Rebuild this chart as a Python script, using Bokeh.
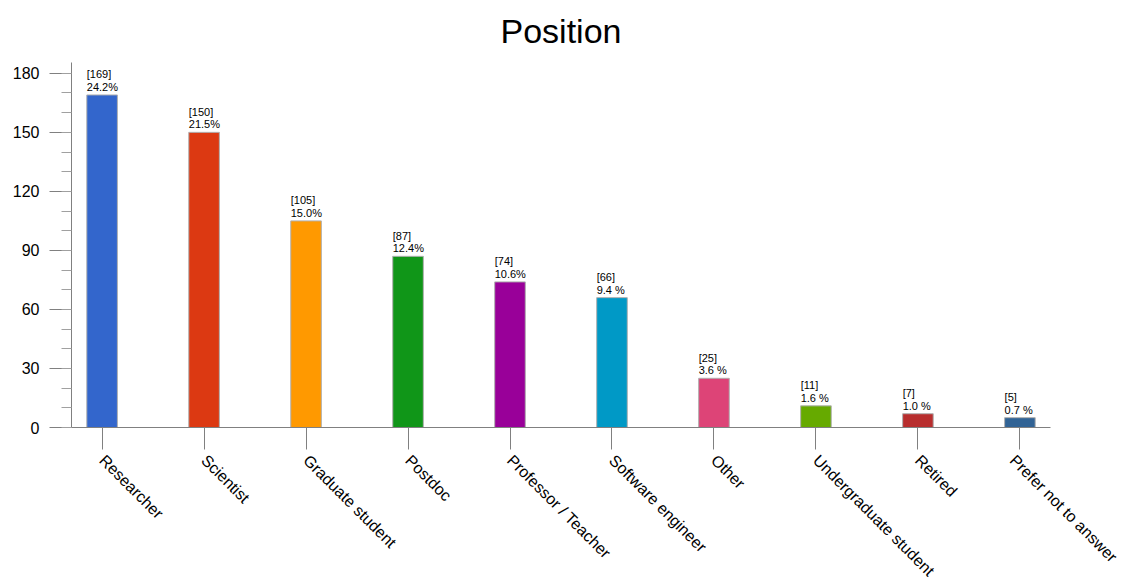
import math
from bokeh.plotting import figure
from bokeh.models import ColumnDataSource, FixedTicker, Range1d
from bokeh.core.properties import value
from bokeh.embed import file_html
from bokeh.resources import INLINE

categories = ["Researcher", "Scientist", "Graduate student", "Postdoc",
              "Professor / Teacher", "Software engineer", "Other",
              "Undergraduate student", "Retired", "Prefer not to answer"]
counts = [169, 150, 105, 87, 74, 66, 25, 11, 7, 5]
percent_labels = ["24.2%", "21.5%", "15.0%", "12.4%", "10.6%",
                  "9.4 %", "3.6 %", "1.6 %", "1.0 %", "0.7 %"]
colors = ["#3366CC", "#DC3912", "#FF9900", "#109618", "#990099",
          "#0099C6", "#DD4477", "#66AA00", "#B82E2E", "#316395"]
y_ticks = [0, 30, 60, 90, 120, 150, 180]

FONT = "Liberation Sans"
bar_w = 0.3
xs = list(range(len(categories)))
src = ColumnDataSource(dict(
    x=xs,
    left=[x - bar_w / 2 for x in xs],
    top=counts,
    color=colors,
    label=["[%d]\n%s" % (c, pl) for c, pl in zip(counts, percent_labels)],
))

W, H = 1120, 588
p = figure(width=W, height=H, output_backend="svg", toolbar_location=None,
           x_range=Range1d(-0.3, 9.3), y_range=Range1d(0, 185.5),
           min_border_left=71, min_border_right=W - 1050, min_border_top=62,
           min_border_bottom=150)
p.title.text = "Position"
p.title.text_font = FONT
p.title.text_font_size = "34px"
p.title.text_font_style = "normal"
p.title.align = "center"
p.title.text_color = "#000000"
p.title.standoff = 22
p.title.vertical_align = "top"

p.vbar(x="x", width=bar_w, top="top", bottom=0, source=src,
       fill_color="color", line_color="#b0b0b0", line_width=1)
p.text(x="left", y="top", text="label", source=src,
       text_font=value(FONT), text_font_size="11px", text_color="#000000",
       text_align="left", text_baseline="bottom", text_line_height=1.05,
       y_offset=-2)

p.grid.visible = False
p.outline_line_color = None

ya = p.yaxis[0]
ya.ticker = FixedTicker(ticks=y_ticks, minor_ticks=list(range(0, 190, 10)))
ya.axis_line_color = "#808080"
ya.major_tick_line_color = "#808080"
ya.minor_tick_line_color = "#a0a0a0"
ya.major_tick_in = 0
ya.major_tick_out = 22
ya.minor_tick_in = 0
ya.minor_tick_out = 10
ya.major_label_text_font = FONT
ya.major_label_text_font_size = "16px"
ya.major_label_text_color = "#000000"
ya.major_label_standoff = 10

xa = p.xaxis[0]
xa.ticker = FixedTicker(ticks=xs)
xa.major_label_overrides = {i: c for i, c in enumerate(categories)}
xa.axis_line_color = "#808080"
xa.major_tick_line_color = "#808080"
xa.minor_tick_line_color = None
xa.major_tick_in = 0
xa.major_tick_out = 22
xa.major_label_text_font = FONT
xa.major_label_text_font_size = "16px"
xa.major_label_text_color = "#000000"
xa.major_label_orientation = -math.pi / 4
xa.major_label_standoff = 8

open("out.html", "w").write(file_html(p, INLINE))
